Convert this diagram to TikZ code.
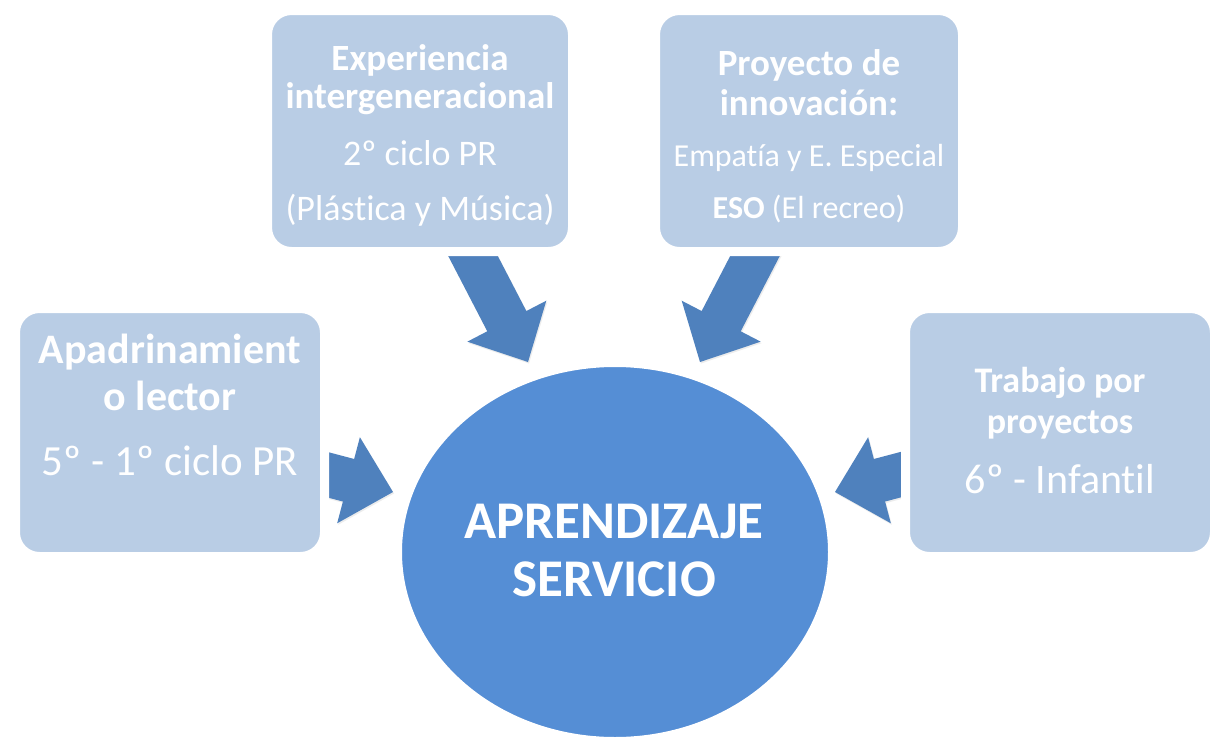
\documentclass[tikz,border=0pt]{standalone}
\usepackage{fontspec}
\setmainfont{Carlito}[Ligatures=CommonOff]
\usetikzlibrary{calc,shadows,shapes.geometric}
\definecolor{boxfill}{RGB}{185,205,229}
\definecolor{ellfill}{RGB}{85,142,213}
\definecolor{arrfill}{RGB}{79,129,189}
\newcommand\fsz[1]{\fontsize{#1}{#1}\selectfont}
\newcommand\blockarrow[2]{%
  \path ($(#2)!46pt!(#1)$) coordinate (neck);
  \fill[arrowstyle] ($(#1)!22pt!90:(#2)$) -- ($(neck)!22pt!90:(#2)$) -- ($(neck)!44.5pt!90:(#2)$) -- (#2)
     -- ($(neck)!44.5pt!-90:(#2)$) -- ($(neck)!22pt!-90:(#2)$) -- ($(#1)!22pt!-90:(#2)$) -- cycle;}
\tikzset{
  panel/.style={rectangle, rounded corners=24pt, fill=boxfill, draw=white, line width=9pt,
    inner sep=0pt, drop shadow={shadow xshift=1.5pt, shadow yshift=-2pt, opacity=0.18}},
  hub/.style={ellipse, fill=ellfill, draw=white, line width=8pt, inner sep=0pt,
    drop shadow={shadow xshift=1.5pt, shadow yshift=-2pt, opacity=0.18}},
  arrowstyle/.style={fill=arrfill, drop shadow={shadow xshift=1pt, shadow yshift=-1.5pt, opacity=0.15}},
  lbl/.style={text=white, anchor=base, inner sep=0pt},
}
\begin{document}
\begin{tikzpicture}[x=1pt,y=-1pt]
\fill[white] (0,0) rectangle (1219,745);
\useasboundingbox (0,0) rectangle (1219,745);
% arrow end points
\coordinate (a1t) at (459,229); \coordinate (a1p) at (528,362);
\coordinate (a2t) at (769,229); \coordinate (a2p) at (700,362);
\coordinate (a3t) at (287,464); \coordinate (a3p) at (393,492);
\coordinate (a4t) at (941,464); \coordinate (a4p) at (835,492);
\blockarrow{a1t}{a1p}
\blockarrow{a2t}{a2p}
\blockarrow{a3t}{a3p}
\blockarrow{a4t}{a4p}
% panels
\node[panel, minimum width=305pt, minimum height=241pt] (exp) at (420,131) {};
\node[panel, minimum width=307pt, minimum height=241pt] (pro) at (809,131) {};
\node[panel, minimum width=309pt, minimum height=248pt] (apa) at (170,432.5) {};
\node[panel, minimum width=309pt, minimum height=248pt] (tra) at (1060,432.5) {};
\node[hub, minimum width=434pt, minimum height=378pt] (hub) at (615,552) {};
% texts
\node[lbl, font=\bfseries\fsz{37}] (exp1) at (420,70) {Experiencia};
\node[lbl, font=\bfseries\fsz{37}] (exp2) at (420,108) {intergeneracional};
\node[lbl, font=\fsz{36}] (exp3) at (420,165) {2º ciclo PR};
\node[lbl, font=\fsz{36}] (exp4) at (420,220) {(Plástica y Música)};
\node[lbl, font=\bfseries\fsz{37}] (pro1) at (809,75) {Proyecto de};
\node[lbl, font=\bfseries\fsz{37}] (pro2) at (809,115) {innovación:};
\node[lbl, font=\fsz{32}] (pro3) at (809,166) {Empatía y E. Especial};
\node[lbl, font=\fsz{32}] (pro4) at (809,218) {\textbf{ESO} (El recreo)};
\node[lbl, font=\bfseries\fsz{42}] (apa1) at (170,363) {Apadrinamient};
\node[lbl, font=\bfseries\fsz{42}] (apa2) at (170,410) {o lector};
\node[lbl, font=\fsz{43}] (apa3) at (170,475) {5º - 1º ciclo PR};
\node[lbl, font=\bfseries\fsz{36}] (tra1) at (1060,392) {Trabajo por};
\node[lbl, font=\bfseries\fsz{36}] (tra2) at (1060,433) {proyectos};
\node[lbl, font=\fsz{42}] (tra3) at (1060,493) {6º - Infantil};
\node[lbl, font=\bfseries\fsz{53}] (hub1) at (614,538) {APRENDIZAJE};
\node[lbl, font=\bfseries\fsz{53}] (hub2) at (614,596) {SERVICIO};
\end{tikzpicture}
\end{document}
